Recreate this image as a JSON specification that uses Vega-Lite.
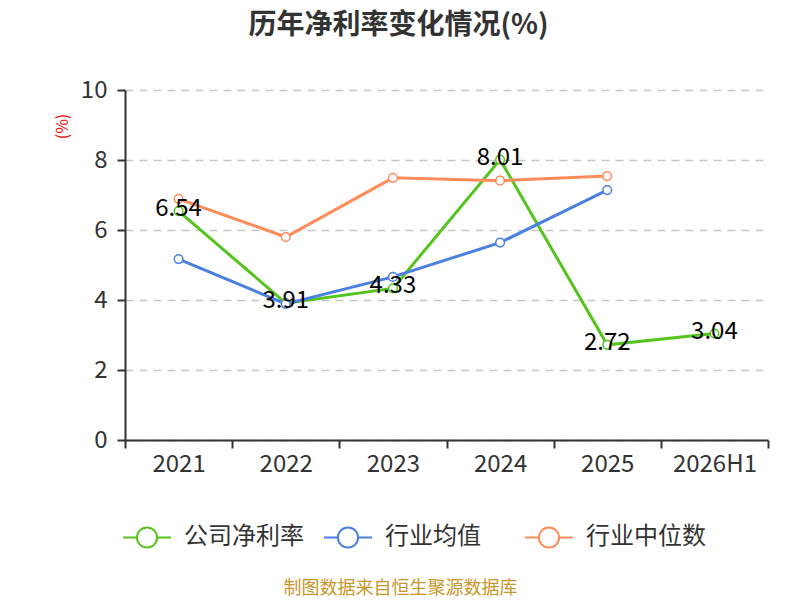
{
  "$schema": "https://vega.github.io/schema/vega-lite/v6.json",
  "autosize": "none",
  "width": 643,
  "height": 350,
  "padding": {"left": 125, "top": 90, "right": 32, "bottom": 160},
  "background": "white",
  "config": {
    "font": "Noto Sans CJK SC",
    "view": {"stroke": null}
  },
  "title": {
    "text": "历年净利率变化情况(%)",
    "fontSize": 28,
    "fontWeight": "bold",
    "color": "#333333",
    "anchor": "middle",
    "frame": "group",
    "dx": -48,
    "offset": 38
  },
  "data": {
    "values": [
      {"year": "2021", "series": "公司净利率", "value": 6.54},
      {"year": "2022", "series": "公司净利率", "value": 3.91},
      {"year": "2023", "series": "公司净利率", "value": 4.33},
      {"year": "2024", "series": "公司净利率", "value": 8.01},
      {"year": "2025", "series": "公司净利率", "value": 2.72},
      {"year": "2026H1", "series": "公司净利率", "value": 3.04},
      {"year": "2021", "series": "行业均值", "value": 5.17},
      {"year": "2022", "series": "行业均值", "value": 3.89},
      {"year": "2023", "series": "行业均值", "value": 4.66},
      {"year": "2024", "series": "行业均值", "value": 5.64},
      {"year": "2025", "series": "行业均值", "value": 7.14},
      {"year": "2021", "series": "行业中位数", "value": 6.89},
      {"year": "2022", "series": "行业中位数", "value": 5.8},
      {"year": "2023", "series": "行业中位数", "value": 7.49},
      {"year": "2024", "series": "行业中位数", "value": 7.41},
      {"year": "2025", "series": "行业中位数", "value": 7.54}
    ]
  },
  "encoding": {
    "x": {
      "field": "year",
      "type": "nominal",
      "sort": null,
      "scale": {"paddingInner": 0, "paddingOuter": 0},
      "axis": {
        "title": "制图数据来自恒生聚源数据库",
        "titleColor": "#c9962a",
        "titleFontSize": 18,
        "titleFontWeight": "normal",
        "titleX": 275,
        "titleY": 148,
        "titleBaseline": "middle",
        "titleAnchor": "middle",
        "labelAngle": 0,
        "labelFontSize": 24,
        "labelColor": "#333333",
        "labelPadding": 4,
        "tickBand": "extent",
        "tickSize": 8,
        "tickColor": "#333333",
        "tickWidth": 2,
        "domainColor": "#333333",
        "domainWidth": 2,
        "grid": false
      }
    },
    "y": {
      "field": "value",
      "type": "quantitative",
      "scale": {"domain": [0, 10]},
      "axis": {
        "title": "(%)",
        "titleColor": "#ff0000",
        "titleFontSize": 16,
        "titleFontWeight": "normal",
        "titleX": -63,
        "titleY": 36,
        "titleAnchor": "middle",
        "titleBaseline": "middle",
        "values": [0, 2, 4, 6, 8, 10],
        "labelFontSize": 24,
        "labelColor": "#333333",
        "labelPadding": 10,
        "tickSize": 8,
        "tickColor": "#333333",
        "tickWidth": 2,
        "domainColor": "#333333",
        "domainWidth": 2,
        "grid": true,
        "gridColor": "#c8c8c8",
        "gridDash": [8, 6],
        "gridWidth": 1.5
      }
    },
    "color": {
      "field": "series",
      "type": "nominal",
      "sort": ["公司净利率", "行业均值", "行业中位数"],
      "scale": {
        "domain": ["公司净利率", "行业均值", "行业中位数"],
        "range": ["#55c41d", "#4b80e0", "#ff8c59"]
      },
      "legend": {
        "title": null,
        "orient": "none",
        "direction": "horizontal",
        "legendX": -3,
        "legendY": 422,
        "gridAlign": "all",
        "labelFontSize": 24,
        "labelColor": "#333333",
        "labelOffset": 12,
        "columnPadding": 16,
        "symbolType": "M-1,0L-0.42,0M0.42,0A0.42,0.42 0 1,1 -0.42,0A0.42,0.42 0 1,1 0.42,0M0.42,0L1,0",
        "symbolSize": 2304,
        "symbolStrokeWidth": 2,
        "symbolFillColor": "white"
      }
    }
  },
  "layer": [
    {"mark": {"type": "line", "strokeWidth": 3}},
    {"mark": {"type": "point", "filled": false, "fill": "white", "size": 75, "strokeWidth": 1.5, "opacity": 1}},
    {
      "transform": [{"filter": "datum.series === '公司净利率'"}],
      "mark": {"type": "text", "fontSize": 24, "color": "#000000", "dy": -2, "baseline": "middle"},
      "encoding": {
        "text": {"field": "value", "type": "quantitative", "format": ".2f"},
        "color": {"value": "#000000"}
      }
    }
  ]
}
